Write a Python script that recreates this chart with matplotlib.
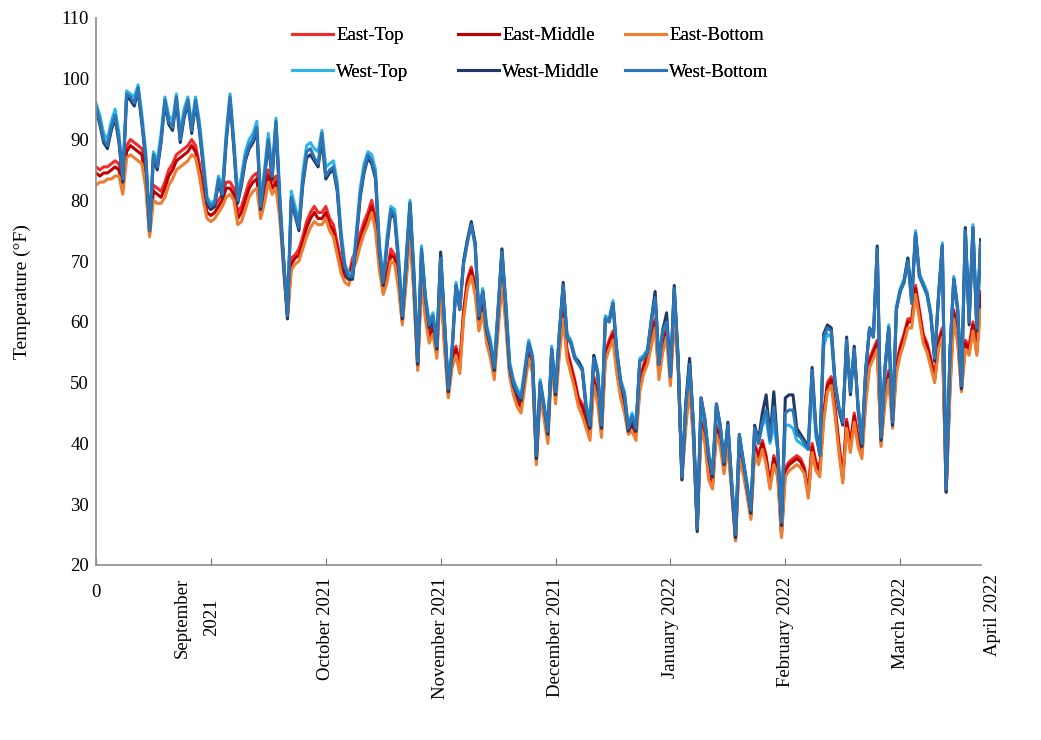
'''
Daily attic temperatures, East vs West sensors, Aug 2021 - Mar 2022.
'''
from matplotlib import pyplot as plt
import matplotlib.transforms as mtransforms
import numpy as np

# ---------------- data (deg F, one value per day) -----
east_top = [
    85.5, 85, 85.5, 85.5, 86, 86.5, 86, 83, 89, 90,
    89.5, 89, 88.5, 84, 75, 82.5, 82, 81.5, 83, 85,
    86, 87.5, 88, 88.5, 89, 90, 89, 86, 82, 79,
    78.5, 79, 80, 81, 83, 83, 82, 78, 79, 81,
    83, 84, 84.5, 78.5, 82, 85, 83, 84, 79, 70,
    61.5, 70.5, 71, 72, 74, 76.5, 78, 79, 78, 78,
    79, 77, 76, 73, 70, 68, 67.5, 70.5, 72, 74.5,
    76.5, 78, 80, 77, 70, 65.5, 68, 72, 71, 67,
    60.5, 68, 76, 66, 53, 68, 62, 58, 59.5, 55.5,
    68, 57, 48.5, 54, 56, 53, 62, 67, 69, 66,
    60, 63, 58, 55.5, 52, 60, 68, 61, 52.5, 49.5,
    47.5, 46.5, 51, 55.5, 53, 37.5, 49.5, 45.5, 41.5, 55,
    48, 56, 62, 55.5, 53, 50.5, 47.5, 46.5, 44, 42,
    51, 48, 42.5, 55, 57, 58.5, 53, 49, 46.5, 42.5,
    43.5, 42, 50, 53, 54.5, 57.5, 60.5, 52, 56.5, 59,
    51, 62, 54, 35, 44, 50.5, 42, 26.5, 44, 41.5,
    35, 33.5, 43, 41, 36, 41, 33, 24.5, 39, 36,
    32.5, 28.5, 40, 38, 40.5, 38, 33.5, 38, 36, 25.5,
    36, 37, 37.5, 38, 37.5, 36, 32, 40, 37, 36,
    45, 50, 51, 46, 40, 34.5, 44, 40, 45, 41,
    39, 48, 54, 55.5, 57, 40.5, 48, 52, 44, 53,
    56, 58, 60.5, 60.5, 66, 62, 58, 56.5, 54, 51,
    57, 59, 32.5, 50, 62, 58, 49.5, 57, 56, 60,
    55.5, 65]
east_middle = [
    84.5, 84, 84.5, 84.5, 85, 85.5, 85, 82, 88, 89,
    88.5, 88, 87.5, 83, 74.5, 81.5, 81, 80.5, 82, 84,
    85, 86.5, 87, 87.5, 88, 89, 88, 85, 81, 78,
    77.5, 78, 79, 80, 82, 82, 81, 77, 78, 80,
    82, 83, 83.5, 78, 81, 84, 82, 83, 78, 69.5,
    61, 69.5, 70.5, 71, 73, 75.5, 77, 78, 77, 77,
    78, 76, 75, 72, 69, 67.5, 67, 69.5, 71, 73.5,
    75.5, 77, 79, 76, 69.5, 65, 67.5, 71, 70.5, 66.5,
    60, 67.5, 75.5, 65.5, 52.5, 67.5, 61.5, 57.5, 59, 55,
    67.5, 56.5, 48, 53.5, 55.5, 52.5, 61.5, 66.5, 68.5, 65.5,
    59.5, 62.5, 57.5, 55, 51.5, 59.5, 67.5, 60.5, 52, 49,
    47, 46, 50.5, 55, 52.5, 37, 49, 45, 41, 54.5,
    47.5, 55.5, 61.5, 55, 52.5, 50, 47, 46, 43.5, 41.5,
    50.5, 47.5, 42, 54.5, 56.5, 58, 52.5, 48.5, 46, 42,
    43, 41.5, 49.5, 52.5, 54, 57, 60, 51.5, 56, 58.5,
    50.5, 61.5, 53.5, 34.5, 43.5, 50, 41.5, 26, 43.5, 41,
    34.5, 33, 42.5, 40.5, 35.5, 40.5, 32.5, 24, 38.5, 35.5,
    32, 28, 39.5, 37.5, 40, 37.5, 33, 37.5, 35.5, 25,
    35.5, 36.5, 37, 37.5, 37, 35.5, 31.5, 39.5, 36.5, 35.5,
    44.5, 49.5, 50.5, 45.5, 39.5, 34, 43.5, 39.5, 44.5, 40.5,
    38.5, 47.5, 53.5, 55, 56.5, 40, 47.5, 51.5, 43.5, 52.5,
    55.5, 57.5, 60, 60, 65.5, 61.5, 57.5, 56, 53.5, 50.5,
    56.5, 58.5, 32, 49.5, 61.5, 57.5, 49, 56.5, 55.5, 59.5,
    55, 64.5]
east_bottom = [
    82.5, 83, 83, 83.5, 83.5, 84, 84, 81, 87, 87.5,
    87, 86.5, 86, 82, 74, 80, 79.5, 79.5, 80.5, 82.5,
    83.5, 85, 85.5, 86, 86.5, 87.5, 87, 84, 80, 77,
    76.5, 77, 78, 79, 80.5, 81, 80, 76, 76.5, 78.5,
    80.5, 81.5, 82, 77, 79.5, 83, 81, 82, 77, 68.5,
    60.5, 68.5, 69.5, 70, 72, 74, 75.5, 76.5, 76, 76,
    77, 75, 74, 71, 68, 66.5, 66, 68.5, 70, 72.5,
    74.5, 76, 78, 75, 68.5, 64.5, 66.5, 70, 69.5, 65.5,
    59.5, 66.5, 74.5, 64.5, 52, 66.5, 60.5, 56.5, 58, 54,
    66.5, 55.5, 47.5, 52.5, 54.5, 51.5, 60.5, 65.5, 67.5, 64.5,
    58.5, 61.5, 56.5, 54, 50.5, 58.5, 66.5, 59.5, 51, 48,
    46, 45, 49.5, 54, 51.5, 36.5, 48, 44, 40, 53.5,
    46.5, 54.5, 60.5, 54, 51.5, 49, 46, 44.5, 42.5, 40.5,
    49.5, 46.5, 41, 53.5, 55.5, 57, 51.5, 47.5, 45, 41.5,
    42, 40.5, 48.5, 51.5, 53, 56, 59, 50.5, 55, 57.5,
    49.5, 60.5, 52.5, 34, 42.5, 49, 40.5, 25.5, 42.5, 40,
    34, 32.5, 41.5, 39.5, 35, 39.5, 32, 24, 37.5, 35,
    31.5, 27.5, 38.5, 36.5, 39, 36.5, 32.5, 36.5, 34.5, 24.5,
    34.5, 35.5, 36, 36.5, 36, 35, 31, 38.5, 35.5, 34.5,
    43.5, 48.5, 49.5, 44.5, 38.5, 33.5, 42.5, 38.5, 43.5, 39.5,
    37.5, 46.5, 52.5, 54, 55.5, 39.5, 46.5, 50.5, 42.5, 51.5,
    54.5, 56.5, 59, 59, 64.5, 60.5, 56.5, 55, 52.5, 50,
    55.5, 57.5, 32, 48.5, 60.5, 56.5, 48.5, 55.5, 54.5, 58.5,
    54.5, 62]
west_top = [
    96, 94, 91, 90, 93, 95, 91, 84, 98, 97.5,
    97, 99, 94, 88, 75.5, 88, 86.5, 91, 97, 94,
    93, 97.5, 91, 95, 97, 92.5, 97, 93, 87, 80.5,
    79.5, 80, 84, 82, 91, 97.5, 90, 81, 84, 88,
    90, 91, 93, 80, 85, 91, 85, 93.5, 81, 70.5,
    61.5, 81.5, 79, 76.5, 84.5, 89, 89.5, 88.5, 88, 91.5,
    85.5, 86, 86.5, 83, 75, 69.5, 68, 68, 75, 82,
    86, 88, 87.5, 85, 73, 67, 74, 79, 78.5, 71,
    61.5, 71, 80, 69, 54, 72.5, 64.5, 60, 61.5, 56.5,
    71, 60.5, 49.5, 56, 66.5, 62.5, 70, 73.5, 76, 73,
    61.5, 65.5, 59.5, 57, 53, 62.5, 72, 63.5, 53.5, 50.5,
    49, 48, 52.5, 57, 54.5, 38.5, 50.5, 46.5, 42.5, 56,
    49, 58.5, 66, 58, 57, 54.5, 53.5, 52.5, 46.5, 43.5,
    54.5, 52, 43.5, 61, 60.5, 63.5, 55.5, 50.5, 48.5, 43,
    45, 43, 54, 54.5, 55.5, 60.5, 64.5, 53.5, 59, 60.5,
    51.5, 65.5, 54.5, 35, 46.5, 53.5, 43.5, 26.5, 46, 43,
    38.5, 35.5, 45, 42.5, 37.5, 43, 34, 25.5, 41, 37.5,
    33.5, 29.5, 42, 40, 43, 44, 40, 43, 39, 27.5,
    43, 43, 42.5, 40.5, 40, 39.5, 39, 50, 41, 38.5,
    56, 58, 57.5, 49.5, 46, 44, 56, 49, 55, 46.5,
    40.5, 52.5, 59, 58, 72, 41.5, 52.5, 59.5, 44, 62.5,
    65.5, 67, 70.5, 64, 75, 68, 66.5, 65, 61.5, 54.5,
    64.5, 73, 33, 55.5, 67.5, 62.5, 50, 75.5, 60.5, 76,
    59.5, 73.5]
west_middle = [
    95, 92.5, 89.5, 88.5, 91.5, 93.5, 89.5, 83, 97, 96.5,
    95.5, 98, 92.5, 86.5, 75, 87, 85, 89.5, 96, 92.5,
    91.5, 96.5, 89.5, 93.5, 96, 91, 96, 91.5, 85.5, 79.5,
    78.5, 79, 83, 80.5, 89.5, 96.5, 88.5, 79.5, 82.5, 86.5,
    88.5, 89.5, 91.5, 78.5, 83.5, 89.5, 83.5, 92.5, 79.5, 69.5,
    60.5, 80, 77.5, 75, 82.5, 87, 87.5, 86.5, 85.5, 90,
    83.5, 84.5, 85, 81.5, 73.5, 68.5, 67, 67, 73.5, 80.5,
    84.5, 87, 86, 83.5, 71.5, 66, 72.5, 78, 77, 69.5,
    60.5, 69.5, 79.5, 67.5, 53, 71.5, 64, 59, 60.5, 55.5,
    71.5, 60, 48.5, 55, 66, 62, 70, 73.5, 76.5, 73,
    60.5, 65, 58.5, 56, 52, 61.5, 72, 62.5, 52.5, 49.5,
    48, 47, 51.5, 56.5, 54, 37.5, 50, 46, 41.5, 55.5,
    48, 58, 66.5, 57.5, 56.5, 54, 53.5, 52, 45.5, 42.5,
    54.5, 51.5, 42.5, 60.5, 60, 63, 55, 50, 47.5, 42,
    44, 42, 53.5, 54, 55, 60, 65, 53, 58.5, 61.5,
    51, 66, 54, 34, 46.5, 54, 43, 25.5, 47.5, 44,
    37.5, 34.5, 46.5, 43, 36.5, 43.5, 33, 24.5, 41.5, 37,
    33, 28.5, 43, 40.5, 45, 48, 41, 48.5, 39.5, 26.5,
    47.5, 48, 48, 42.5, 41.5, 40.5, 39.5, 52.5, 42.5, 38,
    58, 59.5, 59, 50, 45.5, 43, 57.5, 48, 56, 45.5,
    39.5, 52, 59, 57.5, 72.5, 40.5, 52, 59, 43, 62,
    65, 66.5, 70.5, 63.5, 74.5, 67.5, 66, 64.5, 61, 53.5,
    64, 72.5, 32, 55, 67, 62, 49, 75.5, 59.5, 75.5,
    58.5, 73.5]
west_bottom = [
    95.5, 93, 90, 89, 92, 94, 90, 83.5, 97.5, 97,
    96, 98.5, 93, 87, 75, 87.5, 85.5, 90, 96.5, 93,
    92, 97, 90, 94, 96.5, 91.5, 96.5, 92, 86, 80,
    79, 79.5, 83.5, 81, 90, 97, 89, 80, 83, 87,
    89, 90, 92, 79, 84, 90, 84, 93, 80, 70,
    61, 80.5, 78, 75.5, 83, 88, 88.5, 87, 86, 91,
    84, 85, 85.5, 82, 74, 69, 67.5, 67.5, 74, 81,
    85, 87.5, 86.5, 84, 72, 66.5, 73, 78.5, 77.5, 70,
    61, 70, 79.5, 68, 53.5, 72, 64, 59.5, 61, 56,
    70.5, 60, 49, 55.5, 66, 62, 69.5, 73, 76, 72.5,
    61, 65, 59, 56.5, 52.5, 62, 71.5, 63, 53, 50,
    48.5, 47.5, 52, 56.5, 54, 38, 50, 46, 42, 55.5,
    48.5, 58, 66, 57.5, 56.5, 54, 53, 52, 46, 43,
    54, 51.5, 43, 60.5, 60, 63, 55, 50, 48, 42.5,
    44.5, 42.5, 53.5, 54, 55, 60, 64, 53, 58.5, 60,
    51, 65.5, 54, 34.5, 46, 53, 43, 26, 47.5, 44,
    38, 35, 46.5, 43, 37, 43, 33.5, 25, 41.5, 37,
    33, 29, 42.5, 40, 43.5, 45.5, 40.5, 46, 39, 27,
    45, 45.5, 45.5, 41.5, 41, 40, 39, 52, 42, 38,
    57.5, 59, 58.5, 50, 46, 43.5, 57, 48.5, 55.5, 46,
    40, 52, 59, 57.5, 72, 41, 52, 59, 43.5, 62,
    65, 66.5, 70, 63, 74.5, 67.5, 66, 64.5, 61, 54,
    64, 72.5, 32.5, 55, 67, 62, 49.5, 75, 60, 75.5,
    59, 73]

series_names = ["East-Top", "East-Middle", "East-Bottom",
                "West-Top", "West-Middle", "West-Bottom"]
tick_pos = [0, 30, 60, 90, 120, 150, 180, 210]
tick_labels = ["0", "September\n2021", "October 2021", "November 2021",
               "December 2021", "January 2022", "February 2022",
               "March 2022"]
end_label = "April 2022"


def main():
    Fontname = "Liberation Serif"
    Fontsize = 13.5
    series = [east_top, east_middle, east_bottom,
              west_top, west_middle, west_bottom]
    colors = ["#F32A2A", "#C00000", "#ED7D31",
              "#2BB5EA", "#203864", "#2E75B6"]
    day = np.arange(len(west_bottom))

    fig = plt.figure(figsize=(10.41, 7.40), dpi=100)
    ax = fig.add_axes([0.0922, 0.2365, 0.8498, 0.7392])
    lines = []
    for vals, name, col in zip(series, series_names, colors):
        ln, = ax.plot(day, vals, color=col, linewidth=2.2, label=name,
                      solid_joinstyle="round")
        lines.append(ln)

    ax.set_xlim(0, len(west_bottom) - 1)
    ax.set_ylim(20, 110)
    ax.set_yticks(np.arange(20, 111, 10))
    ax.tick_params(axis="y", length=0, pad=5, labelsize=Fontsize)
    ax.set_xticks(tick_pos)
    ax.set_xticklabels(tick_labels, rotation=90, ha="center", va="top")
    ax.tick_params(axis="x", direction="in", length=5, pad=9,
                   labelsize=Fontsize, color="#707070")
    for lab in ax.get_yticklabels() + ax.get_xticklabels():
        lab.set_fontname(Fontname)
    xlabs = ax.get_xticklabels()
    xlabs[0].set_rotation(0)
    xlabs[0].set_transform(xlabs[0].get_transform() +
                           mtransforms.ScaledTranslation(
                               0, -0.07, fig.dpi_scale_trans))
    # the two-line september label sits with its year on the tick
    xlabs[1].set_linespacing(2.0)
    xlabs[1].set_transform(xlabs[1].get_transform() +
                           mtransforms.ScaledTranslation(
                               -0.14, 0, fig.dpi_scale_trans))
    # April label hangs at the end of the axis
    ax.text(len(west_bottom) - 1, 20, end_label, rotation=90,
            ha="center", va="top", fontsize=Fontsize, fontname=Fontname,
            transform=ax.transData + mtransforms.ScaledTranslation(
                0.12, -0.09, fig.dpi_scale_trans), clip_on=False)

    for s in ["top", "right"]:
        ax.spines[s].set_visible(False)
    for s in ["left", "bottom"]:
        ax.spines[s].set_color("#8C8C8C")
        ax.spines[s].set_linewidth(1.2)

    ax.set_ylabel("Temperature (\u00b0F)", fontsize=14, fontname=Fontname)
    ax.yaxis.set_label_coords(-0.073, 0.5)

    # ---------- legend: three fixed-width columns like the original ---------
    col_x = [292, 458, 625]
    for k in range(3):
        leg = fig.legend([lines[k], lines[k + 3]],
                         [series_names[k], series_names[k + 3]],
                         loc="upper left",
                         bbox_to_anchor=(col_x[k] / 1041., 1 - 27. / 740),
                         frameon=False, borderpad=0., borderaxespad=0.,
                         prop={"family": Fontname, "size": Fontsize},
                         handlelength=2.2, handletextpad=0.15,
                         labelspacing=1.05)
        fig.add_artist(leg)

    fig.savefig("out.png", dpi=100)
    plt.close(fig)


if __name__ == '__main__':
    main()
